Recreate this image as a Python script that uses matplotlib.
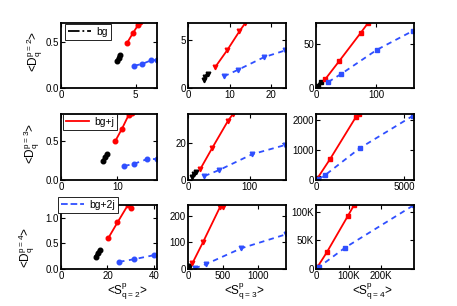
import matplotlib
matplotlib.use("Agg")
import matplotlib.pyplot as plt
from matplotlib.lines import Line2D

plt.rcParams["font.family"] = ["Liberation Sans", "DejaVu Sans"]
plt.rcParams["font.size"] = 7

# panels ordered row by row: (p=2,q=2) (p=2,q=3) (p=2,q=4) / p=3 ... / p=4 ...
bg_x = [[3.74, 3.86, 3.93], [3.8, 4.2, 4.7], [3.8, 7.7],
        [7.5, 7.8, 8.1], [6.5, 10, 13.5], [30, 60, 100],
        [14.9, 15.8, 16.7], [8, 14, 20], [2000, 5000]]
bg_y = [[0.29, 0.32, 0.36], [0.86, 1.1, 1.5], [2.7, 6.4],
        [0.25, 0.29, 0.33], [1.4, 3.2, 4.5], [20, 40, 60],
        [0.24, 0.31, 0.37], [5, 9, 12], [1000, 3000]]

j_x = [[4.45, 4.82, 5.18, 5.3], [6.6, 9.4, 12.4, 13.8], [15.4, 38.5, 73.6, 86],
       [9.6, 10.8, 12.0, 12.5], [20, 39, 65, 73], [60, 800, 2270, 2450],
       [20.3, 24.3, 28.8, 30.2], [62, 214, 462, 500], [5000, 33000, 98000, 117000]]
j_y = [[0.49, 0.59, 0.68, 0.71], [2.2, 3.9, 5.9, 6.75], [10.2, 31, 63, 74.6],
       [0.5, 0.66, 0.84, 0.86], [5.9, 17, 31.8, 35.4], [40, 705, 2125, 2216],
       [0.6, 0.91, 1.25, 1.19], [21, 100, 234, 234], [4000, 29000, 93000, 112000]]

j2_x = [[4.93, 5.46, 6.07, 6.44], [8.6, 12.1, 18.3, 23.4], [20, 42, 101, 160],
        [11.2, 13.0, 15.3, 17.0], [26.5, 51, 104, 158], [124, 530, 2480, 5500],
        [25, 31.3, 40, 46], [95, 252, 762, 1405], [3000, 8000, 90000, 301000]]
j2_y = [[0.24, 0.26, 0.30, 0.30], [1.2, 1.9, 3.2, 3.9], [6.8, 16.3, 44, 65.5],
        [0.18, 0.21, 0.27, 0.27], [2.1, 5.4, 13.8, 18.8], [23, 170, 1070, 2160],
        [0.14, 0.19, 0.27, 0.30], [2.5, 17.5, 77.5, 130], [1500, 3000, 37600, 112000]]

xlims = [6.44, 23.6, 162, 17, 159, 5550, 41.3, 1405, 301000]
ylims = [0.70, 6.75, 74.6, 0.85, 35.4, 2216, 1.25, 240, 112000]
xticks = [[0, 5], [0, 10, 20], [0, 100], [0, 10], [0, 100], [0, 5000],
          [0, 20, 40], [0, 500, 1000], [0, 100000, 200000]]
xticklabels = [None, None, None, None, None, None, None, None, ["0", "100K", "200K"]]
yticks = [[0, 0.5], [0, 5], [0, 50], [0, 0.5], [0, 20], [0, 1000, 2000],
          [0, 0.5, 1], [0, 100, 200], [0, 50000, 100000]]
yticklabels = [None, None, None, None, None, None, None, None, ["0", "50K", "100K"]]

ylabels = ["p=2", "p=3", "p=4"]
xlabels = ["q=2", "q=3", "q=4"]
legend_names = ["bg", "bg+j", "bg+2j"]

RED = "#ff0000"
BLUE = "#2f4fff"
markers = ["o", "v", "s"]

W, H = 457, 306
fig = plt.figure(figsize=(W / 100, H / 100), dpi=100)

col_px = [(61, 96), (188, 98), (316, 98)]
row_px = [(23, 65), (114, 66), (205, 64)]

for r in range(3):
    for c in range(3):
        i = r * 3 + c
        x0, w = col_px[c]
        y0, h = row_px[r]
        ax = fig.add_axes([x0 / W, 1 - (y0 + h) / H, w / W, h / H])
        m = markers[c]
        ax.plot(bg_x[i], bg_y[i], "-.", color="k", lw=2.2, marker=m, ms=3.3)
        ax.plot(j_x[i], j_y[i], "-", color=RED, lw=1.3, marker=m, ms=3.3)
        ax.plot(j2_x[i], j2_y[i], "--", color=BLUE, lw=1.3, marker=m, ms=3.3,
                dashes=(3, 2.5))
        ax.set_xlim(0, xlims[i])
        ax.set_ylim(0, ylims[i])
        ax.set_xticks(xticks[i])
        ax.set_yticks(yticks[i])
        if xticklabels[i]:
            ax.set_xticklabels(xticklabels[i])
        if yticklabels[i]:
            ax.set_yticklabels(yticklabels[i])
        ax.tick_params(direction="in", top=True, right=True, length=3,
                       width=0.8, pad=1.5, labelsize=7)
        for s in ax.spines.values():
            s.set_linewidth(1.3)

        if c == 0:
            styles = [("-.", "k"), ("-", RED), ("--", BLUE)]
            ls, col = styles[r]
            h_ = Line2D([], [], linestyle=ls, color=col, lw=1.3)
            anchors = [(65, 24), (63, 114), (58, 197)]
            ax_, ay_ = anchors[r]
            leg = ax.legend([h_], [legend_names[r]], loc="upper left",
                            bbox_to_anchor=(ax_ / W, 1 - ay_ / H),
                            bbox_transform=fig.transFigure, borderaxespad=0,
                            fancybox=False, framealpha=1, edgecolor="k",
                            handlelength=2.2, handletextpad=0.5,
                            borderpad=0.3, fontsize=7.5)
            leg.get_frame().set_linewidth(0.6)

ylab_pos = [(35, 51), (32, 143), (27, 247)]
for r in range(3):
    px, py = ylab_pos[r]
    fig.text(px / W, 1 - py / H,
             r"<$\mathregular{D_q^{%s}}$>" % ylabels[r],
             rotation=90, ha="center", va="center", fontsize=8.5)

xlab_pos = [(127, 292), (244, 292), (372, 292)]
for c in range(3):
    px, py = xlab_pos[c]
    fig.text(px / W, 1 - py / H,
             r"<$\mathregular{S^p_{%s}}$>" % xlabels[c],
             ha="center", va="center", fontsize=8.5)

fig.savefig("out.png", dpi=100)
